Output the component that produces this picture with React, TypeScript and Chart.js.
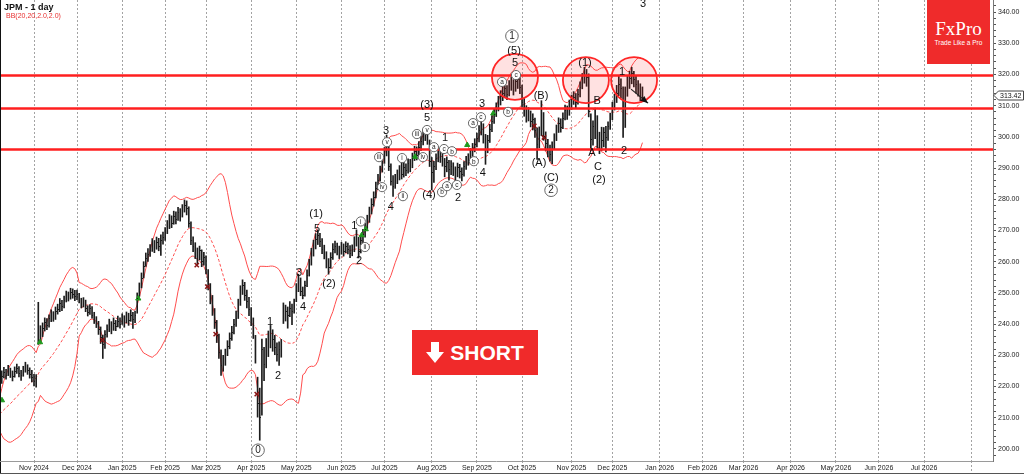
import React, { useEffect, useRef } from "react";
import { Chart, registerables } from "chart.js";

Chart.register(...registerables);

// ---- data (bar index 1 = first visible daily bar) ----
const warmupCloses = [209.5, 211.2, 210.4, 212.0, 211.3, 209.8, 208.6, 210.1, 211.7, 210.9, 209.6, 210.8, 212.2, 211.4, 210.2, 209.3, 210.6, 211.8, 210.5];

const closes = [
  222.0, 223.5, 224.8, 223.6, 225.2, 224.1, 223.4, 224.9, 225.8, 224.3, 223.7, 225.0, 226.2, 225.4, 224.1, 223.0, 221.8, 222.3,
  237.5, 236.8, 238.9, 240.6, 239.7, 241.9, 243.1, 242.2, 244.3, 245.0,
  246.8, 245.9, 247.7, 249.5, 248.6, 250.4, 249.8, 248.9, 249.6,
  247.6, 246.4, 247.3, 245.1, 244.0, 245.2, 243.0, 241.6, 240.2,
  238.5, 236.0, 233.6, 236.8, 238.4, 239.9, 238.1, 240.3, 239.4, 241.0, 240.1, 241.8, 240.6, 242.3, 241.2, 243.0, 241.5, 242.8,
  248.5, 251.8, 254.9, 258.6, 261.2, 262.4, 263.9, 265.6, 264.3, 266.2, 265.0, 266.8, 267.9,
  269.4, 271.8, 273.5, 272.4, 274.8, 273.6, 275.9, 274.7, 276.8, 278.2, 277.1,
  272.5, 266.8, 264.9, 263.0, 261.3, 263.6, 260.1, 261.5, 257.7,
  252.8, 248.3, 244.6, 240.8, 236.4, 231.2, 226.9,
  227.8, 230.6, 233.0, 235.4, 237.6, 240.1, 242.0, 246.5, 250.8, 252.6, 249.2, 247.5, 244.8, 241.5, 237.0, 229.6,
  214.8, 210.3, 232.1, 227.2, 231.4, 233.6, 236.7, 235.1, 232.7, 230.4, 231.9, 233.2,
  242.7, 244.2, 243.0, 245.3, 244.1, 246.2, 251.6, 254.2, 250.5, 249.3, 252.4,
  255.8, 259.2, 262.7, 265.0, 267.2, 268.4, 266.6, 264.1, 262.4, 259.9, 258.3, 261.6, 264.2,
  265.1, 263.8, 262.9, 264.6, 263.4, 265.0, 264.1, 262.7, 263.8, 266.2, 267.5, 263.4, 266.9, 268.8,
  270.6, 273.2, 275.9, 278.4, 280.6, 283.7, 286.2, 288.9, 292.0, 294.8, 297.4,
  290.8, 286.0, 284.2, 286.3, 287.7, 289.1, 288.0, 290.2, 289.5, 291.6, 290.9,
  293.2, 295.6, 294.3, 296.9, 298.6, 300.3, 301.6, 299.2,
  292.3, 288.6, 290.6, 293.2, 295.4, 294.0, 292.3, 290.6, 291.9, 289.7, 290.8,
  289.5, 288.1, 290.3, 289.1, 288.0, 290.6, 292.0, 293.1, 294.6, 296.3, 297.7, 299.6,
  302.1, 303.4, 300.1, 295.6, 299.0, 302.6, 305.1, 307.4, 309.2, 311.4, 313.0,
  314.2, 315.6, 313.7, 316.3, 317.6, 315.1, 317.8, 318.4, 316.0,
  311.2, 308.4, 306.9, 307.6, 305.0, 305.6, 302.1, 297.8, 301.6, 307.2, 300.4, 297.9, 296.0, 294.6, 297.2,
  299.6, 302.2, 304.6, 303.1, 306.1, 308.6, 307.3, 310.1,
  311.6, 312.9, 311.1, 313.6, 315.9, 318.6, 320.5, 319.1,
  308.2, 299.4, 303.5, 306.6, 300.1, 297.6, 298.9, 301.6, 300.0, 303.5, 306.1,
  309.6, 312.0, 314.0, 317.0, 315.5, 303.0, 313.5, 317.5, 319.0, 320.5, 318.5, 317.0, 315.5, 314.5, 313.42,
];

const highs = [
  224.0, 225.0, 226.2, 225.5, 226.8, 225.9, 225.0, 226.3, 227.2, 226.4, 225.2, 226.5, 227.8, 227.0, 226.0, 225.2, 223.9, 223.8,
  247.0, 239.5, 240.4, 242.0, 241.8, 243.0, 244.6, 244.0, 245.5, 246.4,
  248.2, 247.6, 249.0, 250.6, 250.3, 251.5, 251.3, 250.8, 250.9,
  249.9, 248.3, 248.5, 247.7, 245.9, 246.3, 245.6, 243.8, 242.4,
  240.9, 239.1, 236.5, 237.9, 239.8, 241.6, 240.8, 242.0, 241.2, 242.6, 242.0, 243.3, 242.7, 243.9, 243.5, 244.6, 243.8, 244.2,
  250.0, 253.2, 256.4, 260.0, 262.8, 264.2, 265.5, 267.4, 266.8, 267.9, 267.5, 268.6, 269.5,
  270.9, 273.2, 275.1, 274.7, 276.2, 276.0, 277.4, 277.0, 278.3, 279.8, 279.5,
  277.6, 272.8, 268.0, 266.1, 264.4, 265.0, 263.8, 263.0, 261.9,
  257.5, 253.0, 249.2, 245.0, 241.2, 236.8, 231.8,
  230.0, 232.0, 234.7, 237.2, 239.3, 241.5, 244.2, 248.0, 252.3, 254.2, 253.4, 250.9, 248.6, 245.3, 242.0, 236.4,
  223.0, 219.5, 235.2, 232.6, 235.4, 237.8, 239.6, 238.2, 236.4, 234.0, 234.3, 235.1,
  246.8, 246.1, 245.5, 247.2, 246.4, 248.0, 253.0, 256.0, 254.8, 251.9, 253.8,
  257.4, 260.8, 264.3, 266.9, 269.0, 270.2, 269.1, 267.4, 265.3, 263.2, 261.0, 262.9, 265.8,
  266.6, 266.0, 265.0, 266.2, 265.7, 266.4, 266.0, 265.2, 265.4, 268.0, 270.2, 267.8, 268.3, 270.4,
  272.3, 274.9, 277.5, 280.2, 282.4, 285.5, 288.0, 290.6, 294.2, 296.6, 300.6,
  297.0, 291.4, 287.6, 288.0, 289.4, 290.8, 292.4, 291.9, 291.4, 293.0, 292.8,
  294.8, 297.0, 296.8, 298.5, 300.4, 301.9, 302.8, 302.3,
  299.0, 293.4, 292.2, 294.6, 296.8, 296.2, 295.0, 293.1, 293.6, 292.5, 292.4,
  291.7, 290.4, 291.6, 291.2, 290.1, 292.1, 293.8, 294.6, 296.3, 297.9, 299.4, 301.2,
  303.6, 305.0, 304.2, 300.8, 300.5, 304.0, 306.8, 309.0, 310.9, 313.0, 314.8,
  316.0, 317.5, 316.4, 318.0, 319.2, 318.3, 320.0, 320.2, 319.0,
  316.6, 312.3, 310.0, 309.4, 308.3, 307.4, 306.0, 302.9, 303.2, 311.6, 307.8, 301.6, 299.2, 297.4, 298.4,
  301.0, 303.8, 306.1, 305.8, 307.7, 310.2, 309.9, 311.8,
  313.4, 314.5, 313.9, 315.2, 317.6, 320.3, 322.3, 321.6,
  320.2, 307.4, 305.1, 309.2, 306.8, 301.5, 303.1, 303.0, 303.4, 304.8, 307.6,
  311.1, 313.7, 316.5, 319.5, 318.6, 316.0, 316.0, 319.5, 321.0, 322.3, 321.0, 319.5, 318.0, 317.0, 316.0,
];

const lows = [
  216.0, 221.0, 222.8, 222.4, 223.5, 222.9, 221.8, 223.0, 224.2, 223.1, 222.0, 223.3, 224.6, 223.9, 222.7, 221.5, 220.2, 219.8,
  233.5, 234.5, 236.0, 237.8, 238.2, 239.0, 240.8, 240.9, 241.5, 243.2,
  244.0, 244.3, 245.2, 247.1, 247.4, 248.0, 248.3, 247.5, 247.8,
  246.8, 245.2, 245.5, 244.0, 242.6, 243.1, 241.9, 240.2, 238.9,
  236.7, 233.8, 229.0, 232.2, 235.8, 237.6, 236.9, 238.0, 237.9, 239.1, 238.7, 239.9, 239.0, 240.4, 239.6, 240.9, 238.6, 240.5,
  243.5, 248.9, 251.6, 254.8, 258.5, 260.1, 261.7, 263.3, 262.9, 264.0, 263.5, 262.0, 265.6,
  266.8, 269.0, 270.6, 270.9, 272.0, 272.1, 273.2, 273.0, 274.3, 275.9, 275.0,
  271.0, 265.5, 263.2, 261.0, 259.2, 260.6, 258.4, 258.9, 256.1,
  251.0, 246.5, 242.8, 238.6, 234.1, 229.0, 223.6,
  224.9, 226.8, 229.9, 232.1, 234.8, 236.9, 239.3, 241.8, 246.0, 249.5, 247.6, 245.2, 242.7, 239.5, 235.4, 227.5,
  210.2, 202.8, 210.8, 221.9, 226.0, 229.6, 232.4, 231.3, 230.2, 228.1, 226.8, 229.4,
  240.2, 241.0, 238.7, 242.4, 239.8, 243.5, 247.2, 250.4, 249.1, 248.1, 249.0,
  252.0, 255.4, 258.9, 261.8, 264.1, 265.5, 264.8, 262.6, 260.9, 258.0, 256.0, 257.9, 260.7,
  262.8, 262.2, 261.0, 262.4, 261.8, 262.9, 262.5, 261.3, 261.9, 263.2, 265.0, 261.2, 262.8, 265.6,
  267.9, 270.1, 272.6, 275.3, 277.8, 280.4, 283.1, 285.8, 288.7, 291.5, 293.9,
  289.2, 284.5, 280.9, 283.5, 285.0, 286.2, 286.5, 287.1, 287.6, 288.4, 288.8,
  290.1, 292.4, 292.6, 293.8, 295.6, 297.4, 298.8, 297.6,
  290.5, 283.0, 285.4, 289.5, 292.0, 291.8, 290.6, 287.2, 288.8, 286.1, 287.9,
  287.6, 285.6, 287.2, 286.8, 285.9, 287.4, 289.6, 290.9, 292.2, 293.7, 295.2, 296.8,
  298.4, 300.6, 298.0, 291.2, 294.9, 298.2, 301.7, 304.3, 306.5, 308.3, 310.2,
  311.6, 312.8, 311.9, 313.1, 314.9, 313.4, 314.6, 315.5, 313.8,
  309.5, 306.6, 304.7, 305.1, 303.2, 302.2, 299.8, 292.8, 296.5, 300.4, 298.9, 295.5, 293.6, 292.2, 291.4,
  296.2, 298.8, 301.4, 301.5, 302.6, 305.4, 305.6, 306.9,
  308.8, 310.4, 309.3, 310.5, 312.8, 315.4, 317.2, 316.2,
  306.4, 295.6, 297.3, 299.4, 296.3, 294.6, 295.6, 296.8, 295.2, 298.9, 302.4,
  305.5, 308.6, 311.0, 313.2, 312.5, 299.8, 303.0, 313.0, 315.5, 317.0, 316.0, 314.0, 313.0, 311.5, 311.8,
];

const monthTickIndex = [17, 37, 58, 78, 97, 118, 139, 160, 180, 202, 223, 244, 267, 286, 308, 328, 347, 369, 390, 410, 431, 453];
const monthTickLabels = ["Nov 2024", "Dec 2024", "Jan 2025", "Feb 2025", "Mar 2025", "Apr 2025", "May 2025", "Jun 2025", "Jul 2025", "Aug 2025", "Sep 2025", "Oct 2025", "Nov 2025", "Dec 2025", "Jan 2026", "Feb 2026", "Mar 2026", "Apr 2026", "May 2026", "Jun 2026", "Jul 2026", ""];
const priceTickLabels = [200, 210, 220, 230, 240, 250, 260, 270, 280, 290, 300, 310, 320, 330, 340];

const levels = [319.8, 309.4, 296.2];
const lastPrice = 313.42;

const highlightCircles: [number, number][] = [[240.7, 319.2], [273.7, 318.2], [296.1, 318.2]];
const arrowPath: [number, number][] = [[294.7, 315.3], [302.6, 310.8]];

const greenMarks: [number, number][] = [[2.1, 215.6], [19.8, 234.2], [65.5, 248.2], [169.4, 268.5], [171.3, 270.4], [194.2, 293.6], [218.5, 297.4], [230.6, 307.5]];
const redMarks: [number, number][] = [[48.8, 234.9], [92.7, 258.9], [97.6, 252.0], [101.5, 236.8], [120.6, 217.6], [249.7, 303.5], [254.2, 299.8]];

// [bar index, price, text, kind]  kind: 0 plain, 1 small circle, 2 big circle
const waveLabels: [number, number, string, number][] = [
  [121.2, 199.6, "0", 2], [126.8, 241.0, "1", 0], [130.5, 223.7, "2", 0],
  [140.3, 256.7, "3", 0], [142.1, 245.8, "4", 0], [148.2, 275.3, "(1)", 0], [148.6, 270.8, "5", 0], [154.2, 253.1, "(2)", 0],
  [166.0, 271.7, "1", 0], [169.0, 272.9, "i", 1], [170.9, 264.7, "ii", 1], [168.2, 260.5, "2", 0],
  [180.7, 302.2, "3", 0], [181.2, 298.3, "v", 1], [177.5, 293.5, "iii", 1], [178.9, 283.9, "iv", 1], [183.0, 277.8, "4", 0],
  [188.2, 293.2, "i", 1], [188.6, 281.0, "ii", 1], [195.1, 300.9, "iii", 1], [199.8, 302.2, "v", 1], [199.8, 306.3, "5", 0], [199.8, 310.5, "(3)", 0],
  [197.9, 293.5, "iv", 1], [200.7, 281.7, "(4)", 0],
  [203.0, 296.7, "a", 1], [208.2, 299.9, "1", 0], [207.7, 296.1, "c", 1], [211.4, 295.4, "b", 1],
  [206.8, 282.3, "b", 1], [209.1, 284.2, "a", 1], [213.7, 284.6, "c", 1], [214.2, 280.7, "2", 0],
  [221.2, 304.4, "a", 1], [224.9, 306.3, "c", 1], [225.4, 310.8, "3", 0], [221.6, 292.2, "b", 1], [225.8, 288.7, "4", 0],
  [234.7, 317.6, "a", 1], [237.5, 308.0, "b", 1], [241.2, 319.8, "c", 1], [240.7, 323.7, "5", 0], [240.3, 327.8, "(5)", 0], [239.3, 332.3, "1", 2],
  [252.8, 313.4, "(B)", 0], [251.9, 291.9, "(A)", 0], [257.5, 287.1, "(C)", 0], [257.5, 282.9, "2", 2],
  [273.3, 323.7, "(1)", 0], [278.9, 311.8, "B", 0], [276.5, 295.1, "A", 0], [279.3, 290.6, "C", 0], [279.8, 286.2, "(2)", 0],
  [290.5, 320.8, "1", 0], [291.4, 295.8, "2", 0], [300.3, 342.6, "3", 0],
];

const X_MIN = 1.65;
const X_MAX = 463.05;
const Y_MIN = 196.15;
const Y_MAX = 343.85;
const FONT = '"Liberation Sans", Arial, sans-serif';

function bollinger(period: number, k: number) {
  const all = [...warmupCloses, ...closes];
  const off = warmupCloses.length;
  const up: { x: number; y: number }[] = [];
  const mid: { x: number; y: number }[] = [];
  const lo: { x: number; y: number }[] = [];
  for (let j = 0; j < closes.length; j++) {
    const end = j + off;
    const start = end - period + 1;
    if (start < 0) continue;
    let s = 0;
    for (let q = start; q <= end; q++) s += all[q];
    const m = s / period;
    let v = 0;
    for (let q = start; q <= end; q++) v += (all[q] - m) * (all[q] - m);
    const sd = Math.sqrt(v / period);
    mid.push({ x: j + 1, y: m });
    up.push({ x: j + 1, y: m + k * sd });
    lo.push({ x: j + 1, y: m - k * sd });
  }
  return { up, mid, lo };
}

const overlayPlugin = {
  id: "overlay",
  afterDatasetsDraw(chart: any) {
    const { ctx, chartArea: a, scales } = chart;
    const xs = scales.x;
    const ys = scales.y;
    const px = (v: number) => xs.getPixelForValue(v);
    const py = (v: number) => ys.getPixelForValue(v);
    ctx.save();
    ctx.beginPath();
    ctx.rect(a.left, a.top, a.right - a.left, a.bottom - a.top);
    ctx.clip();

    // close ticks of the OHLC bars
    ctx.fillStyle = "#1c1c1c";
    closes.forEach((c, k) => {
      const x = Math.round(px(k + 1));
      ctx.fillRect(x, Math.round(py(c)), 1, 1);
    });

    // horizontal levels
    ctx.strokeStyle = "#ff1f1f";
    ctx.lineWidth = 2.5;
    levels.forEach((v) => {
      const y = Math.round(py(v)) + 0.5;
      ctx.beginPath();
      ctx.moveTo(a.left, y);
      ctx.lineTo(a.right, y);
      ctx.stroke();
    });

    // highlight circles
    highlightCircles.forEach(([i, p]) => {
      ctx.beginPath();
      ctx.arc(px(i), py(p), 23, 0, Math.PI * 2);
      ctx.fillStyle = "rgba(255, 40, 40, 0.14)";
      ctx.fill();
      ctx.strokeStyle = "#ff2626";
      ctx.lineWidth = 1.8;
      ctx.stroke();
    });

    // arrow
    const [p0, p1] = arrowPath;
    const x0 = px(p0[0]), y0 = py(p0[1]), x1 = px(p1[0]), y1 = py(p1[1]);
    ctx.strokeStyle = "#222";
    ctx.lineWidth = 1.2;
    ctx.beginPath();
    ctx.moveTo(x0, y0);
    ctx.lineTo(x1, y1);
    ctx.stroke();
    const ang = Math.atan2(y1 - y0, x1 - x0);
    ctx.fillStyle = "#111";
    ctx.beginPath();
    ctx.moveTo(x1, y1);
    ctx.lineTo(x1 - 8 * Math.cos(ang - 0.4), y1 - 8 * Math.sin(ang - 0.4));
    ctx.lineTo(x1 - 8 * Math.cos(ang + 0.4), y1 - 8 * Math.sin(ang + 0.4));
    ctx.closePath();
    ctx.fill();

    // wave labels
    ctx.textAlign = "center";
    ctx.textBaseline = "middle";
    waveLabels.forEach(([i, p, t, kind]) => {
      const x = px(i);
      const y = py(p);
      if (kind === 0) {
        ctx.font = `11px ${FONT}`;
        ctx.fillStyle = "#111";
        ctx.fillText(t, x, y + 0.5);
      } else {
        const r = kind === 2 ? 6.3 : 4.6;
        ctx.beginPath();
        ctx.arc(x, y, r, 0, Math.PI * 2);
        ctx.fillStyle = "#fff";
        ctx.fill();
        ctx.strokeStyle = "#666";
        ctx.lineWidth = 1;
        ctx.stroke();
        ctx.font = kind === 2 ? `10px ${FONT}` : `6.5px ${FONT}`;
        ctx.fillStyle = "#222";
        ctx.fillText(t, x, y + 0.5);
      }
    });
    ctx.restore();

    // frame
    ctx.save();
    ctx.strokeStyle = "#111";
    ctx.lineWidth = 1;
    ctx.beginPath();
    ctx.moveTo(0.5, 0);
    ctx.lineTo(0.5, 474);
    ctx.stroke();
    ctx.strokeStyle = "#9a9a9a";
    ctx.beginPath();
    ctx.moveTo(0, a.bottom + 0.5);
    ctx.lineTo(a.right, a.bottom + 0.5);
    ctx.stroke();
    ctx.strokeStyle = "#555";
    ctx.beginPath();
    ctx.moveTo(0, 473.5);
    ctx.lineTo(1024, 473.5);
    ctx.stroke();

    // last price tag
    const ly = Math.round(py(lastPrice)) + 0.5;
    ctx.fillStyle = "#fff";
    ctx.strokeStyle = "#444";
    ctx.beginPath();
    ctx.moveTo(994, ly);
    ctx.lineTo(998.5, ly - 4.5);
    ctx.lineTo(1023.5, ly - 4.5);
    ctx.lineTo(1023.5, ly + 4.5);
    ctx.lineTo(998.5, ly + 4.5);
    ctx.closePath();
    ctx.fill();
    ctx.stroke();
    ctx.fillStyle = "#111";
    ctx.font = `7px ${FONT}`;
    ctx.textAlign = "left";
    ctx.textBaseline = "middle";
    ctx.fillText(lastPrice.toFixed(2), 1000, ly + 0.5);
    ctx.restore();
  },
};

export default function App() {
  const ref = useRef<HTMLCanvasElement | null>(null);

  useEffect(() => {
    if (!ref.current) return;
    Chart.defaults.font.family = FONT;
    const bb = bollinger(20, 2);
    const barData = closes.map((_c, k) => ({ x: k + 1, y: [lows[k], highs[k]] }));
    const chart = new Chart(ref.current, {
      type: "bar",
      data: {
        datasets: [
          {
            type: "scatter",
            data: greenMarks.map(([i, p]) => ({ x: i, y: p })),
            pointStyle: "triangle",
            pointRadius: 3,
            backgroundColor: "#1f9a1f",
            borderColor: "#1f9a1f",
            order: 0,
          } as any,
          {
            type: "scatter",
            data: redMarks.map(([i, p]) => ({ x: i, y: p })),
            pointStyle: "crossRot",
            pointRadius: 3,
            borderWidth: 1.5,
            borderColor: "#8a1414",
            backgroundColor: "#8a1414",
            order: 0,
          } as any,
          {
            type: "bar",
            data: barData as any,
            backgroundColor: "#1c1c1c",
            borderWidth: 0,
            barThickness: 1,
            grouped: false,
            order: 1,
          } as any,
          {
            type: "line",
            data: bb.up,
            borderColor: "#ff4d4d",
            borderWidth: 1,
            pointRadius: 0,
            tension: 0,
            order: 2,
          },
          {
            type: "line",
            data: bb.mid,
            borderColor: "#ff4d4d",
            borderWidth: 1,
            borderDash: [3, 2],
            pointRadius: 0,
            tension: 0,
            order: 2,
          },
          {
            type: "line",
            data: bb.lo,
            borderColor: "#ff4d4d",
            borderWidth: 1,
            pointRadius: 0,
            tension: 0,
            order: 2,
          },
        ],
      },
      options: {
        animation: false,
        responsive: false,
        maintainAspectRatio: false,
        devicePixelRatio: 1,
        events: [],
        layout: { autoPadding: false, padding: { left: 1, right: 0, top: 0, bottom: 0 } },
        plugins: { legend: { display: false }, tooltip: { enabled: false }, title: { display: false } },
        scales: {
          x: {
            type: "linear",
            min: X_MIN,
            max: X_MAX,
            offset: false,
            afterBuildTicks: (s: any) => {
              s.ticks = monthTickIndex.map((v) => ({ value: v }));
            },
            ticks: {
              autoSkip: false,
              maxRotation: 0,
              minRotation: 0,
              padding: -10,
              color: "#222",
              font: { size: 7 },
              callback: (_v: any, idx: number) => monthTickLabels[idx] ?? "",
            },
            grid: {
              display: true,
              offset: false,
              color: "#a3a3a3",
              lineWidth: 1,
              drawTicks: true,
              tickLength: 13,
              tickColor: "#a3a3a3",
              tickBorderDash: [2, 2],
            },
            border: { display: false, dash: [2, 2] },
            afterFit: (s: any) => {
              s.height = 13;
              s.paddingLeft = 0;
              s.paddingRight = 0;
            },
          } as any,
          y: {
            type: "linear",
            position: "right",
            min: Y_MIN,
            max: Y_MAX,
            afterBuildTicks: (s: any) => {
              const t: { value: number }[] = [];
              for (let v = 198; v <= 342; v += 2) t.push({ value: v });
              s.ticks = t;
            },
            ticks: {
              autoSkip: false,
              padding: 2,
              color: "#222",
              font: { size: 7 },
              callback: (v: any) => (priceTickLabels.includes(Number(v)) ? Number(v).toFixed(2) : ""),
            },
            grid: { drawOnChartArea: false, drawTicks: true, tickLength: 3, tickColor: "#555" },
            border: { display: true, color: "#777" },
            afterFit: (s: any) => {
              s.width = 31;
              s.paddingTop = 0;
              s.paddingBottom = 0;
            },
          } as any,
        },
      },
      plugins: [overlayPlugin],
    });
    return () => chart.destroy();
  }, []);

  return (
    <div style={{ position: "fixed", left: 0, top: 0, width: 1024, height: 474, background: "#fff", overflow: "hidden" }}>
      <canvas ref={ref} width={1024} height={474} style={{ display: "block", width: 1024, height: 474 }} />
      <div style={{ position: "absolute", left: 4, top: 2, font: `bold 9px ${FONT}`, color: "#111", lineHeight: "10px" }}>JPM - 1 day</div>
      <div style={{ position: "absolute", left: 6, top: 12, font: `7px ${FONT}`, color: "#e83030", lineHeight: "8px" }}>BB(20,20,2.0,2.0)</div>
      <div
        style={{
          position: "absolute",
          left: 927,
          top: 0,
          width: 63,
          height: 64,
          background: "#ef2b2b",
          color: "#fff",
          textAlign: "center",
        }}
      >
        <div style={{ font: `19px "Liberation Serif", "DejaVu Serif", serif`, marginTop: 19, lineHeight: "19px" }}>FxPro</div>
        <div style={{ font: `6.5px ${FONT}`, lineHeight: "8px", marginTop: 1 }}>Trade Like a Pro</div>
      </div>
      <div
        style={{
          position: "absolute",
          left: 412,
          top: 330,
          width: 126,
          height: 45,
          background: "#f02a2a",
          display: "flex",
          alignItems: "center",
          justifyContent: "center",
          gap: 6,
        }}
      >
        <svg width="18" height="21" viewBox="0 0 18 21">
          <polygon points="5,0 13,0 13,10 18,10 9,21 0,10 5,10" fill="#fff" />
        </svg>
        <span style={{ font: `bold 21px ${FONT}`, color: "#fff", lineHeight: "21px" }}>SHORT</span>
      </div>
    </div>
  );
}
